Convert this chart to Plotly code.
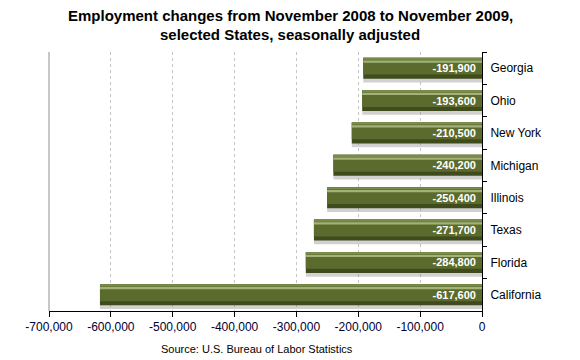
import plotly.graph_objects as go

states = ["Georgia", "Ohio", "New York", "Michigan", "Illinois", "Texas", "Florida", "California"]
changes = [-191900, -193600, -210500, -240200, -250400, -271700, -284800, -617600]
tick_vals = [-700000, -600000, -500000, -400000, -300000, -200000, -100000, 0]
tick_text = ["-700,000", "-600,000", "-500,000", "-400,000", "-300,000", "-200,000", "-100,000", "0"]
title_lines = ["Employment changes from November 2008 to November 2009,",
               "selected States, seasonally adjusted"]
labels = [f"<b>{v:,}</b>\u00a0" for v in changes]

font = "Liberation Sans, Arial, sans-serif"
W = 0.65


def layer(top, height, color):
    return go.Bar(x=changes, y=states, orientation="h", width=W * height, offset=-W / 2 + W * top,
                  marker=dict(color=color, line=dict(width=0)), hoverinfo="skip", showlegend=False)


fig = go.Figure()
fig.add_trace(layer(0.18, 1.0, "rgba(140,140,140,0.40)"))   # shadow
fig.add_trace(layer(0.0, 1.0, "#3f4b1d"))                    # dark bottom edge
fig.add_trace(layer(0.0, 0.80, "#5b6b2d"))                   # body
fig.add_trace(layer(0.0, 0.10, "#7a8b4a"))                   # top edge
fig.add_trace(layer(0.13, 0.11, "#a2b378"))                  # highlight
fig.add_trace(go.Bar(x=changes, y=states, orientation="h", width=W, offset=-W / 2,
                     marker=dict(color="rgba(0,0,0,0)", line=dict(width=0)),
                     text=labels, textposition="inside", insidetextanchor="start",
                     textfont=dict(color="white", size=11, family=font),
                     textangle=0, cliponaxis=False, showlegend=False))

annotations = [dict(text="Source: U.S. Bureau of Labor Statistics", xref="paper", yref="paper",
                    x=278 / 580, xanchor="center", y=-0.145, yanchor="middle", showarrow=False,
                    font=dict(family=font, size=11, color="black"))]
for i, line in enumerate(title_lines):
    annotations.append(dict(text=f"<b>{line}</b>", xref="paper", yref="paper",
                            x=(290 - 49) / 433, xanchor="center",
                            y=1 + (52 - (15 + 20 * i)) / 259, yanchor="middle",
                            showarrow=False, font=dict(family=font, size=15, color="black")))

fig.update_layout(
    width=580, height=360,
    margin=dict(l=49, r=98, t=52, b=49),
    paper_bgcolor="white", plot_bgcolor="white",
    barmode="overlay",
    xaxis=dict(range=[-700000, 0], tickvals=tick_vals, ticktext=tick_text,
               showgrid=True, gridcolor="#c4c4c4", griddash="3px,3px", gridwidth=1,
               showline=True, linecolor="black", linewidth=1,
               ticks="outside", ticklen=5, tickcolor="black",
               tickfont=dict(family=font, size=12, color="#000033"),
               zeroline=False, fixedrange=True),
    yaxis=dict(side="right", autorange="reversed", tickson="boundaries",
               showline=True, linecolor="black", linewidth=1,
               ticks="outside", ticklen=4, tickcolor="black", ticklabelstandoff=5,
               tickfont=dict(family=font, size=12, color="black"),
               showgrid=False, zeroline=False),
    shapes=[dict(type="line", xref="paper", yref="paper", x0=0, x1=0, y0=0, y1=1,
                 line=dict(color="#909090", width=1))],
    annotations=annotations,
)

fig.write_html("out.html", config={"displayModeBar": False},
               post_script="document.body.style.margin='0px';")
